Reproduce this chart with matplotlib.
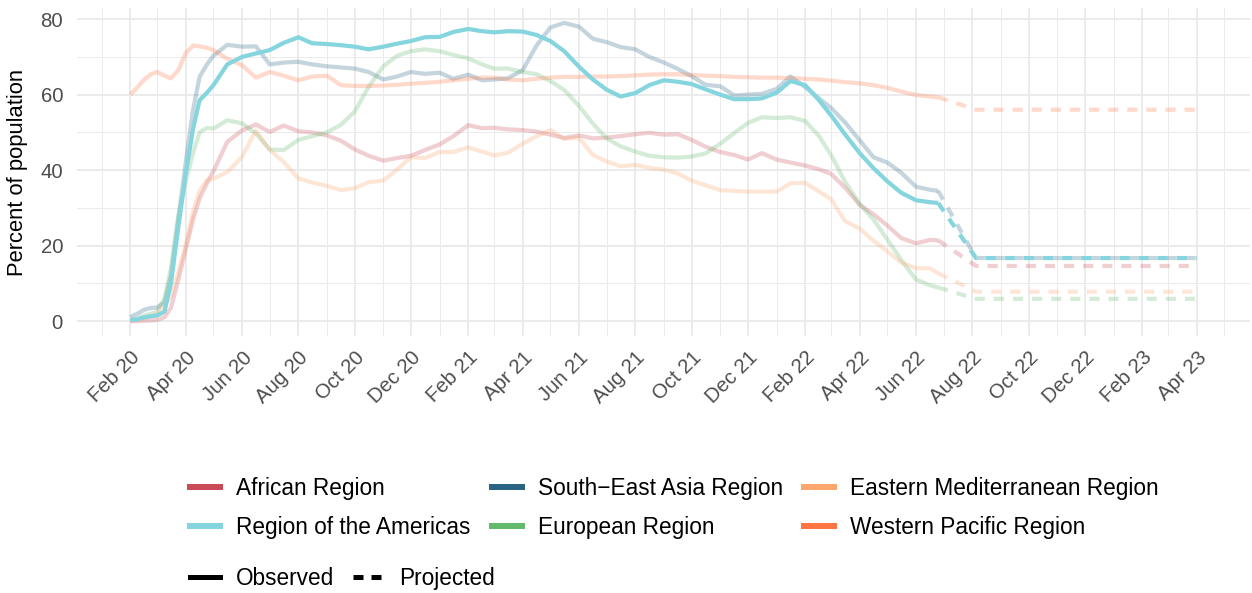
import matplotlib
matplotlib.use("Agg")
import matplotlib.pyplot as plt
import matplotlib.dates as mdates
from matplotlib.lines import Line2D
import pandas as pd

dates = [
    "2020-02-01", "2020-02-09", "2020-02-16", "2020-02-24",
    "2020-03-01", "2020-03-09", "2020-03-16", "2020-03-24",
    "2020-04-01", "2020-04-09", "2020-04-16", "2020-04-24",
    "2020-05-01", "2020-05-16", "2020-06-01", "2020-06-16",
    "2020-07-01", "2020-07-16", "2020-08-01", "2020-08-16",
    "2020-09-01", "2020-09-16", "2020-10-01", "2020-10-16",
    "2020-11-01", "2020-11-16", "2020-12-01", "2020-12-16",
    "2021-01-01", "2021-01-16", "2021-02-01", "2021-02-16",
    "2021-03-01", "2021-03-16", "2021-04-01", "2021-04-16",
    "2021-05-01", "2021-05-16", "2021-06-01", "2021-06-16",
    "2021-07-01", "2021-07-16", "2021-08-01", "2021-08-16",
    "2021-09-01", "2021-09-16", "2021-10-01", "2021-10-16",
    "2021-11-01", "2021-11-16", "2021-12-01", "2021-12-16",
    "2022-01-01", "2022-01-16", "2022-02-01", "2022-02-16",
    "2022-03-01", "2022-03-16", "2022-04-01", "2022-04-16",
    "2022-05-01", "2022-05-16", "2022-06-01", "2022-06-16",
    "2022-06-25",
]

african = [0.0, 0.0, 0.1, 0.2, 0.3, 1.0, 3.5, 11, 19, 27, 32.5, 36.6,
           39.7, 47.5, 50.5, 52.1, 50.1, 51.8, 50.3, 50.0, 49.2, 47.8, 45.5, 43.8,
           42.5, 43.2, 43.8, 45.3,
           46.8, 49.0, 51.9, 51.1, 51.2, 50.8, 50.6, 50.2, 49.4, 48.5, 49.2, 48.4,
           48.6, 49.0, 49.5, 49.9, 49.4, 49.5, 48.0, 46.2, 44.8, 44.0, 42.8, 44.5,
           42.8, 42.0, 41.2, 40.2, 39.0, 35.4, 30.8, 28.3, 25.3, 22.0, 20.6, 21.5,
           21.4]

americas = [0.2, 0.5, 1.0, 1.3, 1.5, 2.5, 10, 25, 39, 51, 58.5, 60.5,
            62.5, 68.0, 70.0, 70.9, 71.8, 73.7, 75.2, 73.6, 73.4, 73.1, 72.7, 72.0,
            72.7, 73.5, 74.2, 75.2,
            75.3, 76.6, 77.4, 76.8, 76.5, 76.8, 76.7, 75.8, 74.2, 71.5, 67.4, 64.0,
            61.3, 59.5, 60.4, 62.5, 63.8, 63.4, 62.8, 61.4, 60.0, 58.8, 58.8, 59.0,
            60.5, 63.6, 62.5, 58.5, 54.5, 49.5, 44.5, 40.5, 37.0, 34.0, 32.0, 31.5,
            31.3]

se_asia = [1.1, 2.0, 3.0, 3.5, 3.6, 5.0, 12, 27, 42, 56, 64.7, 68,
           70.3, 73.2, 72.7, 72.8, 68.0, 68.5, 68.7, 68.0, 67.5, 67.2, 66.9, 66.0,
           64.0, 64.8, 66.0, 65.5,
           65.8, 64.2, 65.3, 63.8, 64.0, 64.3, 66.5, 73.0, 77.8, 79.0, 78.0, 74.8,
           73.9, 72.6, 72.0, 70.0, 68.5, 66.8, 64.9, 62.6, 62.2, 59.8, 60.0, 60.2,
           61.5, 64.8, 62.0, 59.0, 56.5, 52.7, 47.9, 43.4, 42.0, 39.3, 35.6, 34.8,
           34.5]

european = [0.3, 0.8, 1.5, 2.0, 2.5, 6.0, 14, 28, 37, 44.5, 50, 51.2,
            51.0, 53.2, 52.4, 49.7, 45.5, 45.3, 48.0, 49.0, 50.0, 52.0, 55.5, 62.0,
            67.5, 70.3, 71.5, 72.0,
            71.5, 70.5, 69.6, 68.0, 66.9, 66.9, 66.0, 65.4, 63.6, 61.2, 57.0, 52.3,
            48.4, 46.3, 44.9, 43.8, 43.4, 43.3, 43.6, 44.4, 47.0, 49.8, 52.5, 54.0,
            53.8, 54.0, 53.0, 49.0, 44.0, 37.0, 31.0, 26.9, 21.6, 16.2, 11.0, 9.5,
            8.9]

east_med = [0.0, 0.3, 0.8, 1.3, 2.0, 4.0, 6.8, 13, 20.3, 29, 34.5, 37.4,
            37.7, 39.5, 43.5, 50.5, 45.3, 42.2, 37.8, 36.7, 35.8, 34.7, 35.2, 36.8,
            37.2, 40.2, 43.4, 43.2,
            44.8, 44.8, 46.0, 44.9, 43.9, 44.6, 47.0, 49.0, 50.6, 48.3, 48.6, 44.0,
            42.3, 41.0, 41.4, 40.6, 40.1, 39.1, 37.2, 36.0, 34.7, 34.5, 34.3, 34.3,
            34.3, 36.5, 36.6, 34.3, 32.3, 26.5, 24.5, 21.3, 18.5, 15.5, 14.0, 14.0,
            12.7]

west_pac = [60, 62, 64, 65.5, 66, 65, 64.3, 66.5, 71, 73, 72.8, 72.4,
            71.8, 69.5, 67.8, 64.5, 66.0, 65.0, 63.8, 64.8, 65.0, 62.5, 62.3, 62.3,
            62.4, 62.6, 62.9, 63.1,
            63.4, 63.8, 64.2, 64.5, 64.5, 64.0, 63.8, 64.2, 64.5, 64.7, 64.7, 64.8,
            64.8, 64.9, 65.1, 65.3, 65.4, 65.4, 65.2, 65.0, 64.9, 64.7, 64.6, 64.5,
            64.5, 64.4, 64.2, 64.0, 63.7, 63.3, 63.0, 62.5, 61.8, 60.8, 59.9, 59.5,
            59.3]

# projection: from last observed point down to a flat level
proj_dates = ["2022-06-25", "2022-08-05", "2023-04-01"]
proj_level = [14.6, 16.7, 16.7, 5.9, 7.8, 56.0]

regions = ["African Region", "Region of the Americas", "South\u2212East Asia Region",
           "European Region", "Eastern Mediterranean Region", "Western Pacific Region"]
colors = ["#C84B57", "#85D5DF", "#2A6484", "#62BA6C", "#FDA66E", "#FF7543"]
highlight = "Region of the Americas"

plt.rcParams["font.family"] = ["Liberation Sans", "DejaVu Sans"]

x = pd.to_datetime(dates)
xp = pd.to_datetime(proj_dates)
series = [african, americas, se_asia, european, east_med, west_pac]

fig = plt.figure(figsize=(1252 / 144, 593 / 144), dpi=144)
ax = fig.add_axes([77 / 1252, 1 - 336 / 593, (1250 - 77) / 1252, 328 / 593])

order = [i for i in range(6) if regions[i] != highlight] + [regions.index(highlight)]
for i in order:
    a = 1.0 if regions[i] == highlight else 0.27
    z = 3 if regions[i] == highlight else 2
    ax.plot(x, series[i], color=colors[i], alpha=a, lw=2.1,
            solid_capstyle="butt", solid_joinstyle="round", zorder=z)
    ax.plot(xp, [series[i][-1], proj_level[i], proj_level[i]], color=colors[i],
            alpha=a, lw=2.1, dashes=(2.4, 2.15), zorder=z)

# ggplot-style 5% expansion
x0, x1 = pd.Timestamp("2020-02-01"), pd.Timestamp("2023-04-01")
pad = (x1 - x0) * 0.05
ax.set_xlim(x0 - pad, x1 + pad)
ax.set_ylim(-3.95, 82.95)

ax.xaxis.set_major_locator(mdates.MonthLocator(bymonth=[2, 4, 6, 8, 10, 12]))
ax.xaxis.set_minor_locator(mdates.MonthLocator(bymonth=[1, 3, 5, 7, 9, 11]))
ax.xaxis.set_major_formatter(mdates.DateFormatter("%b %y"))
ax.set_yticks([0, 20, 40, 60, 80])
ax.set_yticks([10, 30, 50, 70], minor=True)

ax.grid(which="major", color="#EBEBEB", lw=1.0)
ax.grid(which="minor", color="#EBEBEB", lw=0.5)
ax.set_axisbelow(True)
for s in ax.spines.values():
    s.set_visible(False)
ax.tick_params(which="both", length=0)
ax.tick_params(axis="y", labelsize=10.2, labelcolor="#4D4D4D", pad=7)
ax.tick_params(axis="x", labelsize=10.2, labelcolor="#4D4D4D", pad=6)
for lab in ax.get_xticklabels():
    lab.set_rotation(45)
    lab.set_ha("right")
    lab.set_va("top")
    lab.set_rotation_mode("anchor")
ax.set_ylabel("Percent of population", fontsize=11, labelpad=6)

# legends
handles = [Line2D([], [], color=c, lw=3) for c in colors]
fig.legend(handles, regions, ncol=3, loc="upper left",
           bbox_to_anchor=(190 / 1252, 1 - 477 / 593), frameon=False,
           fontsize=11.3, handlelength=1.32, handletextpad=0.72,
           columnspacing=0.94, labelspacing=0.7, borderpad=0, borderaxespad=0)

lt_handles = [Line2D([], [], color="black", lw=2.5),
              Line2D([], [], color="black", lw=2.5, dashes=(2.0, 1.6))]
fig.legend(lt_handles, ["Observed", "Projected"], ncol=2, loc="upper left",
           bbox_to_anchor=(190 / 1252, 1 - 567 / 593), frameon=False,
           fontsize=11.3, handlelength=1.32, handletextpad=0.72,
           columnspacing=0.84, borderpad=0, borderaxespad=0)

fig.savefig("out.png", dpi=144)
